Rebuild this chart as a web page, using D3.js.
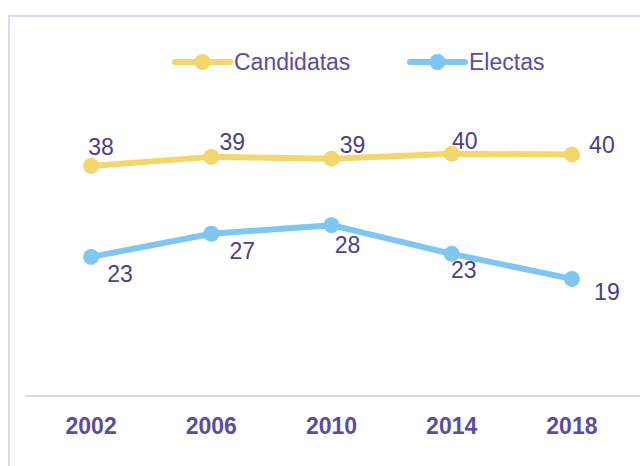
<!DOCTYPE html>
<html>
<head>
<meta charset="utf-8">
<script src="https://cdn.jsdelivr.net/npm/d3@7"></script>
<style>
  body { margin: 0; background: #fff; }
  svg { display: block; font-family: "Liberation Sans", Arial, sans-serif; }
</style>
</head>
<body>
<svg id="chart" width="640" height="466"></svg>
<script>
// data
var years = ["2002", "2006", "2010", "2014", "2018"];
var candidatas = [37.7, 39.2, 38.9, 39.7, 39.6];
var electas = [22.8, 26.6, 28.0, 23.3, 19.2];
var seriesNames = ["Candidatas", "Electas"];

// label placement (Excel style, roughly)
var candOffsets = [[10, -11], [21, -7], [21, -6], [13, -5], [30, -1]];
var electOffsets = [[29, 25], [31, 25], [16, 28], [12, 24], [35, 21]];

var svg = d3.select("#chart");
var colors = { Candidatas: "#f5d66c", Electas: "#80c6f3" };
var labelColor = "#4b4088";

// frame
svg.append("rect")
    .attr("x", 9).attr("y", 16)
    .attr("width", 660).attr("height", 480)
    .attr("fill", "none")
    .attr("stroke", "#dcdaef")
    .attr("stroke-width", 2);

var x = d3.scaleBand().domain(years).range([31, 632]);
var y = d3.scaleLinear().domain([0, 45]).range([396, 396 - 45 * 6.1]);

// axis
var xAxis = svg.append("g")
    .attr("transform", "translate(0,396)")
    .call(d3.axisBottom(x).tickSize(0).tickPadding(16));
xAxis.select(".domain").remove();
svg.append("line")
    .attr("x1", 25).attr("x2", 640)
    .attr("y1", 396).attr("y2", 396)
    .attr("stroke", "#dcd8ec")
    .attr("stroke-width", 2);
xAxis.selectAll("text")
    .attr("font-size", 23)
    .attr("font-weight", "bold")
    .attr("fill", "#5a4d9f")
    .attr("dy", "0.95em")
    .attr("font-family", "Liberation Sans, Arial, sans-serif");

var line = d3.line()
    .x(function(d, i) { return x(years[i]) + x.bandwidth() / 2; })
    .y(function(d) { return y(d); });

function drawSeries(name, values, offsets) {
    var g = svg.append("g");
    g.append("path")
        .datum(values)
        .attr("fill", "none")
        .attr("stroke", colors[name])
        .attr("stroke-width", 6)
        .attr("stroke-linejoin", "round")
        .attr("d", line);
    g.selectAll("circle")
        .data(values)
        .enter().append("circle")
        .attr("cx", function(d, i) { return x(years[i]) + x.bandwidth() / 2; })
        .attr("cy", function(d) { return y(d); })
        .attr("r", 8)
        .attr("fill", colors[name]);
    g.selectAll("text")
        .data(values)
        .enter().append("text")
        .attr("x", function(d, i) { return x(years[i]) + x.bandwidth() / 2 + offsets[i][0]; })
        .attr("y", function(d, i) { return y(d) + offsets[i][1]; })
        .attr("text-anchor", "middle")
        .attr("font-size", 23)
        .attr("fill", labelColor)
        .text(function(d) { return d3.format(".0f")(d); });
}

drawSeries("Candidatas", candidatas, candOffsets);
drawSeries("Electas", electas, electOffsets);

// legend
var legendX = [175, 410];
seriesNames.forEach(function(name, i) {
    var lg = svg.append("g").attr("transform", "translate(" + legendX[i] + ",62)");
    lg.append("line")
        .attr("x1", 0).attr("x2", 55)
        .attr("stroke", colors[name])
        .attr("stroke-width", 6)
        .attr("stroke-linecap", "round");
    lg.append("circle")
        .attr("cx", 27.5).attr("r", 8)
        .attr("fill", colors[name]);
    lg.append("text")
        .attr("x", 59).attr("y", 8)
        .attr("font-size", 23)
        .attr("fill", "#5a4d9f")
        .text(name);
});
</script>
</body>
</html>
